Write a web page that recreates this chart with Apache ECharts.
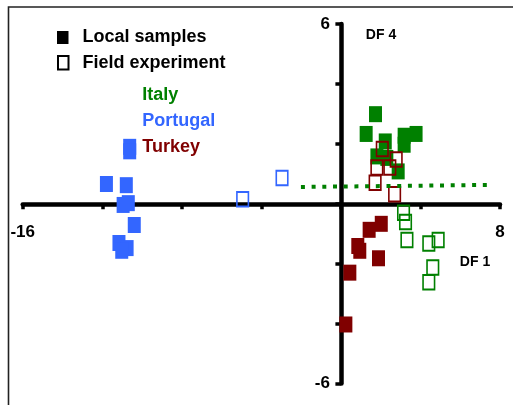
<!DOCTYPE html>
<html>
<head>
<meta charset="utf-8">
<script src="https://cdn.jsdelivr.net/npm/echarts@6/dist/echarts.min.js"></script>
<style>
html,body{margin:0;padding:0;background:#fff;}
#chart{width:513px;height:405px;}
</style>
</head>
<body>
<div id="chart"></div>
<script>
// ---- data (DF1, DF4) ----
const countries = ['Italy', 'Portugal', 'Turkey'];
const countryColors = ['#008000', '#3366FF', '#800000'];

const italyLocal = [[1.74, 2.99], [1.27, 2.33], [2.23, 2.08], [3.18, 2.27], [3.78, 2.33],
  [3.18, 1.97], [1.81, 1.58], [2.31, 1.53], [2.88, 1.08]];
const italyField = [[3.15, -0.30], [3.25, -0.61], [3.32, -1.21], [4.42, -1.33],
  [4.89, -1.21], [4.62, -2.13], [4.42, -2.62]];

const portugalLocal = [[-10.62, 1.90], [-10.62, 1.75], [-11.79, 0.66], [-10.79, 0.62],
  [-10.95, -0.04], [-10.69, 0.02], [-10.39, -0.71], [-11.16, -1.31], [-10.75, -1.48], [-11.02, -1.57]];
const portugalField = [[-4.94, 0.15], [-2.96, 0.86]];

const turkeyLocal = [[2.03, -0.67], [1.42, -0.87], [0.85, -1.41], [0.95, -1.57],
  [1.89, -1.82], [0.45, -2.30], [0.25, -4.03]];
const turkeyField = [[2.08, 1.83], [2.78, 1.48], [1.81, 1.21], [2.46, 1.21],
  [1.72, 0.70], [2.70, 0.32]];

const italyTrend = [[-2.01, 0.56], [7.64, 0.63]];

const xLabelValues = [-16, 8];
const yLabelValues = [-6, 6];
const axisNames = ['DF 1', 'DF 4'];
const legendTypes = ['Local samples', 'Field experiment'];

const FONT = '"Liberation Sans", Arial, sans-serif';
const W = 513, H = 405;
const GRID = { left: 22.7, right: 13, top: 24, bottom: 21.5 };
const X_MIN = -16, X_MAX = 8, Y_MIN = -6, Y_MAX = 6;
// axes cross at the origin: shift each axis from the grid edge to zero
const gridW = W - GRID.left - GRID.right;
const gridH = H - GRID.top - GRID.bottom;
const yAxisOffset = -gridW * (0 - X_MIN) / (X_MAX - X_MIN);
const xAxisOffset = -gridH * (0 - Y_MIN) / (Y_MAX - Y_MIN);

function localSeries(name, data, color) {
  return {
    name: name, type: 'scatter', data: data, symbol: 'rect', symbolSize: [13, 16],
    itemStyle: { color: color, opacity: 1 }, z: 3
  };
}
function fieldSeries(name, data, color) {
  return {
    name: name, type: 'scatter', data: data, symbol: 'rect', symbolSize: [11.5, 14.5],
    itemStyle: { color: 'rgba(0,0,0,0)', borderColor: color, borderWidth: 1.8, opacity: 1 }, z: 4
  };
}

const chart = echarts.init(document.getElementById('chart'), null, { renderer: 'canvas' });

const option = {
  backgroundColor: '#ffffff',
  animation: false,
  grid: Object.assign({ containLabel: false, outerBoundsMode: 'none' }, GRID),
  xAxis: {
    type: 'value', min: X_MIN, max: X_MAX, interval: 4,
    position: 'bottom', offset: xAxisOffset,
    axisLine: { onZero: false, lineStyle: { color: '#000', width: 4.5 } },
    axisTick: { show: true, length: 5.5, lineStyle: { color: '#000', width: 3.5 } },
    splitLine: { show: false },
    axisLabel: {
      margin: 20, color: '#000', fontSize: 17, fontWeight: 'bold', fontFamily: FONT,
      showMinLabel: true, showMaxLabel: true,
      formatter: v => xLabelValues.indexOf(v) >= 0 ? String(v) : ''
    }
  },
  yAxis: {
    type: 'value', min: Y_MIN, max: Y_MAX, interval: 2,
    position: 'left', offset: yAxisOffset,
    axisLine: { onZero: false, lineStyle: { color: '#000', width: 4.5 } },
    axisTick: { show: true, length: 5.5, lineStyle: { color: '#000', width: 3.5 } },
    splitLine: { show: false },
    axisLabel: {
      margin: 11, color: '#000', fontSize: 17, fontWeight: 'bold', fontFamily: FONT,
      showMinLabel: true, showMaxLabel: true,
      formatter: v => yLabelValues.indexOf(v) >= 0 ? String(v) : ''
    }
  },
  series: [
    localSeries(countries[1] + ' local', portugalLocal, countryColors[1]),
    localSeries(countries[0] + ' local', italyLocal, countryColors[0]),
    localSeries(countries[2] + ' local', turkeyLocal, countryColors[2]),
    fieldSeries(countries[1] + ' field', portugalField, countryColors[1]),
    fieldSeries(countries[0] + ' field', italyField, countryColors[0]),
    fieldSeries(countries[2] + ' field', turkeyField, countryColors[2]),
    {
      name: 'Italy trend', type: 'line', data: italyTrend, symbol: 'none', z: 5,
      lineStyle: { color: countryColors[0], width: 4, type: [4, 6.7], cap: 'butt' }
    }
  ],
  graphic: [
    { type: 'polyline', shape: { points: [[8.5, 405], [8.5, 7], [513, 7]] },
      style: { stroke: '#222', lineWidth: 1.6, fill: null }, silent: true },
    { type: 'rect', shape: { x: 57, y: 31, width: 11.5, height: 13 }, style: { fill: '#000' } },
    { type: 'rect', shape: { x: 58, y: 56, width: 10.5, height: 13.5 },
      style: { fill: '#fff', stroke: '#000', lineWidth: 2 } },
    { type: 'text', x: 82.5, y: 37.5, style: { text: legendTypes[0], fill: '#000',
      font: 'bold 18px ' + FONT, verticalAlign: 'middle', align: 'left' } },
    { type: 'text', x: 82.5, y: 63.5, style: { text: legendTypes[1], fill: '#000',
      font: 'bold 18px ' + FONT, verticalAlign: 'middle', align: 'left' } },
    { type: 'text', x: 142.3, y: 95.3, style: { text: countries[0], fill: countryColors[0],
      font: 'bold 18px ' + FONT, verticalAlign: 'middle', align: 'left' } },
    { type: 'text', x: 142.3, y: 121, style: { text: countries[1], fill: countryColors[1],
      font: 'bold 18px ' + FONT, verticalAlign: 'middle', align: 'left' } },
    { type: 'text', x: 142.3, y: 147, style: { text: countries[2], fill: countryColors[2],
      font: 'bold 18px ' + FONT, verticalAlign: 'middle', align: 'left' } },
    { type: 'text', x: 381, y: 35, style: { text: axisNames[1], fill: '#000',
      font: 'bold 14px ' + FONT, verticalAlign: 'middle', align: 'center' } },
    { type: 'text', x: 475, y: 262, style: { text: axisNames[0], fill: '#000',
      font: 'bold 14px ' + FONT, verticalAlign: 'middle', align: 'center' } }
  ]
};
chart.setOption(option);
</script>
</body>
</html>
